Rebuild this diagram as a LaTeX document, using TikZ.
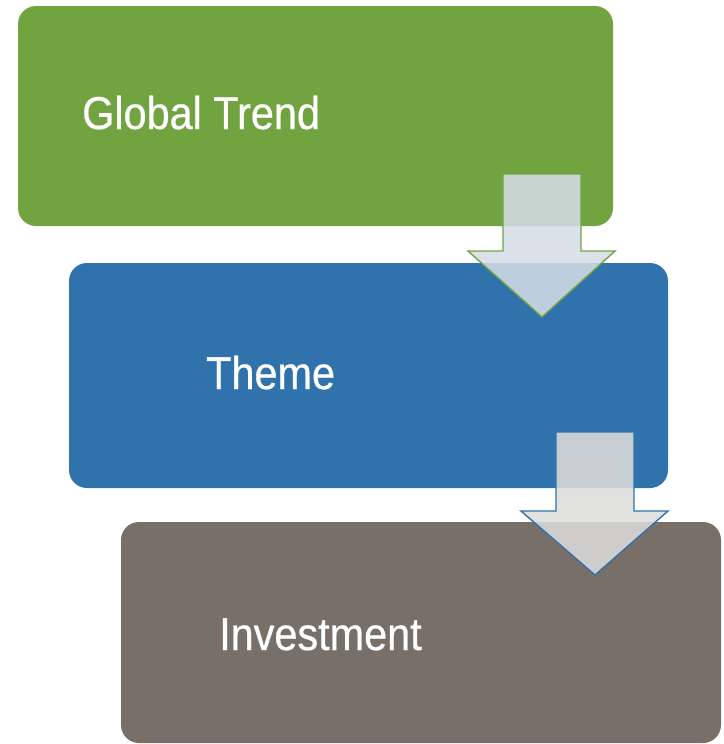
\documentclass[tikz,border=0pt]{standalone}
\usepackage{fontspec}
\newfontfamily\boxfont[FakeStretch=0.9,FakeBold=0.6]{Liberation Sans}
\definecolor{trendgreen}{HTML}{71A441}
\definecolor{themeblue}{HTML}{2F72AC}
\definecolor{investbrown}{HTML}{786F69}
\definecolor{arrowfillA}{HTML}{D5DCE6}
\definecolor{arrowfillB}{HTML}{DDDCDA}
\begin{document}
\begin{tikzpicture}[x=1pt,y=-1pt,
  stage/.style={draw=none, rounded corners=18pt, anchor=north west, inner sep=0pt, outer sep=0pt},
  label/.style={text=white, anchor=base west, inner sep=0pt, font=\boxfont\fontsize{46}{50}\selectfont},
  blockarrow/.style={line width=1.4pt, line join=miter, fill opacity=0.87}
]
\useasboundingbox (0,0) rectangle (723,744);

% stage boxes
\node[stage, fill=trendgreen, minimum width=595pt, minimum height=220pt] (trend) at (18,6) {};
\node[stage, fill=themeblue, minimum width=599pt, minimum height=225pt] (theme) at (69,263) {};
\node[stage, fill=investbrown, minimum width=600pt, minimum height=221pt] (invest) at (121,522) {};

% labels
\node[label] (trendlabel) at (82,129) {Global Trend};
\node[label] (themelabel) at (206,389) {Theme};
\node[label] (investlabel) at (219,650) {Investment};

% block arrows between stages
\draw[blockarrow, draw=trendgreen, fill=arrowfillA]
  (503,174) -- (581,174) -- (581,251) -- (615,251) -- (542,317)
  -- (468,251) -- (503,251) -- cycle;
\draw[blockarrow, draw=themeblue, fill=arrowfillB]
  (556,432) -- (634,432) -- (634,511) -- (668,511) -- (595,575)
  -- (521,511) -- (556,511) -- cycle;
\end{tikzpicture}
\end{document}
